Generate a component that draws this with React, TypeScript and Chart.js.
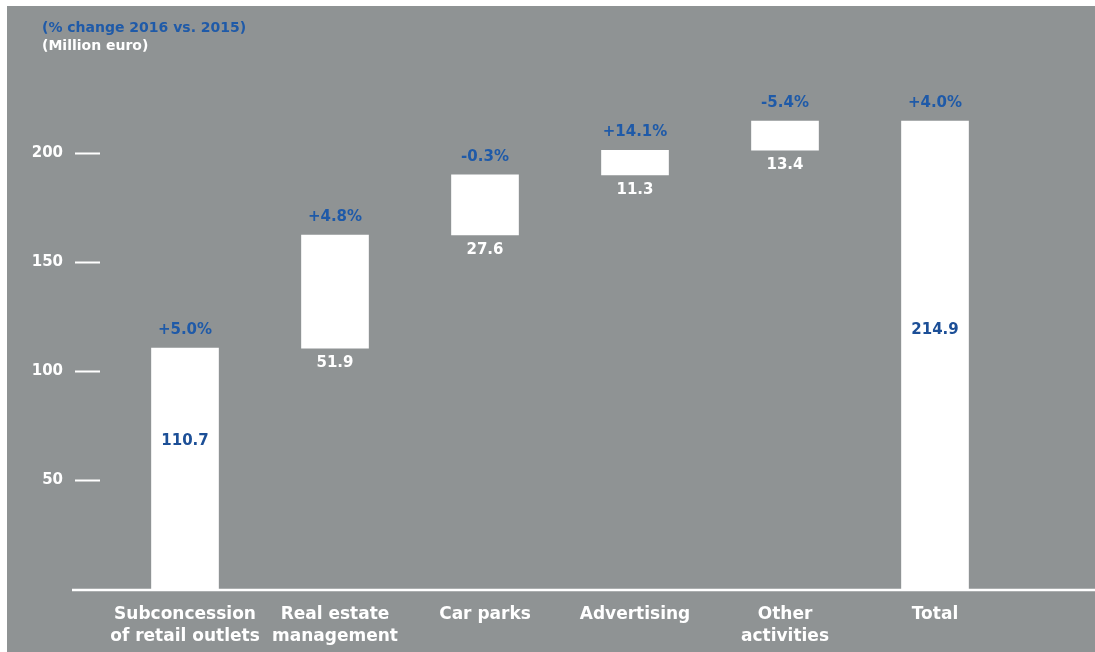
import React, { useEffect, useRef } from "react";
import { Chart, registerables } from "chart.js";

Chart.register(...registerables);

const categories: string[][] = [
  ["Subconcession", "of retail outlets"],
  ["Real estate", "management"],
  ["Car parks"],
  ["Advertising"],
  ["Other", "activities"],
  ["Total"],
];
const increments: number[] = [110.7, 51.9, 27.6, 11.3, 13.4];
const totalValue = 214.9;
const valueLabels: string[] = ["110.7", "51.9", "27.6", "11.3", "13.4", "214.9"];
const changeLabels: string[] = ["+5.0%", "+4.8%", "-0.3%", "+14.1%", "-5.4%", "+4.0%"];
const yTicks: number[] = [50, 100, 150, 200];
const titleLine = "(% change 2016 vs. 2015)";
const subtitleLine = "(Million euro)";

const BG = "rgb(143,147,148)";
const BLUE = "#1f5aa8";
const DARK_BLUE = "#1c4f97";
const FONT = "'DejaVu Sans', sans-serif";

export default function App() {
  const ref = useRef<HTMLCanvasElement | null>(null);

  useEffect(() => {
    if (!ref.current) return;
    // floating waterfall ranges built from increments
    const ranges: [number, number][] = [];
    let acc = 0;
    increments.forEach((v) => {
      ranges.push([acc, acc + v]);
      acc += v;
    });
    ranges.push([0, totalValue]);

    const labelPlugin = {
      id: "waterfallLabels",
      afterLayout(chart: any) {
        // indent the title block like the reference
        chart.boxes.forEach((b: any) => {
          if (b.options && b.options.text !== undefined && b.isHorizontal && b.isHorizontal()) {
            b.left = 35;
          }
        });
      },
      beforeDatasetsDraw(chart: any) {
        const { ctx } = chart;
        const y0 = chart.scales.y.getPixelForValue(0);
        ctx.save();
        ctx.strokeStyle = "#ffffff";
        ctx.lineWidth = 2.5;
        ctx.beginPath();
        ctx.moveTo(65, y0 + 0.5);
        ctx.lineTo(chart.width, y0 + 0.5);
        ctx.stroke();
        ctx.restore();
      },
      afterDatasetsDraw(chart: any) {
        const { ctx } = chart;
        const meta = chart.getDatasetMeta(0);
        ctx.save();
        ctx.textAlign = "center";
        ctx.textBaseline = "middle";
        ctx.font = `bold 15px ${FONT}`;
        meta.data.forEach((el: any, i: number) => {
          const top = Math.min(el.y, el.base);
          const bottom = Math.max(el.y, el.base);
          ctx.fillStyle = BLUE;
          ctx.fillText(changeLabels[i], el.x, top - 18);
          const full = ranges[i][0] === 0;
          if (full) {
            const frac = i === 0 ? 0.385 : 0.446;
            ctx.fillStyle = DARK_BLUE;
            ctx.fillText(valueLabels[i], el.x, top + (bottom - top) * frac);
          } else {
            ctx.fillStyle = "#ffffff";
            ctx.fillText(valueLabels[i], el.x, bottom + 15);
          }
        });
        ctx.restore();
      },
    };

    const chart = new Chart(ref.current, {
      type: "bar",
      data: {
        labels: categories,
        datasets: [
          {
            data: ranges as any,
            backgroundColor: "#ffffff",
            borderWidth: 0,
            barThickness: 67,
          },
        ],
      },
      options: {
        responsive: false,
        animation: false,
        layout: { padding: { left: 0, right: 85, top: 0, bottom: 0 } },
        plugins: {
          legend: { display: false },
          tooltip: { enabled: false },
          title: {
            display: true,
            text: titleLine,
            align: "start",
            color: BLUE,
            font: { family: FONT, size: 14, weight: "bold", lineHeight: 1.25 },
            padding: { top: 13.25, bottom: 0 },
          },
          subtitle: {
            display: true,
            text: subtitleLine,
            align: "start",
            color: "#ffffff",
            font: { family: FONT, size: 14, weight: "bold", lineHeight: 1.25 },
            padding: { top: 0.5, bottom: 33.35 },
          },
        },
        scales: {
          x: {
            grid: { display: false },
            border: { display: false },
            ticks: {
              color: "#ffffff",
              font: { family: FONT, size: 17, weight: "bold", lineHeight: 1.3 },
              padding: 6,
              maxRotation: 0,
              autoSkip: false,
            },
            afterFit: (scale: any) => {
              scale.height = 62.5;
            },
          },
          y: {
            min: 0,
            max: 230,
            border: { display: false },
            grid: {
              drawOnChartArea: false,
              drawTicks: true,
              tickLength: 35,
              tickWidth: 2,
              tickColor: "#ffffff",
              tickBorderDash: [25, 100],
            } as any,
            afterBuildTicks: (scale: any) => {
              scale.ticks = yTicks.map((v) => ({ value: v }));
            },
            ticks: {
              color: "#ffffff",
              font: { family: FONT, size: 15, weight: "bold" },
              padding: 12,
            },
            afterFit: (scale: any) => {
              scale.width = 103;
            },
          },
        },
      },
      plugins: [labelPlugin],
    });
    return () => chart.destroy();
  }, []);

  return (
    <div
      style={{
        position: "fixed",
        left: 7,
        top: 6,
        width: 1088,
        height: 646,
        background: BG,
      }}
    >
      <canvas ref={ref} width={1088} height={646} style={{ display: "block" }} />
    </div>
  );
}
